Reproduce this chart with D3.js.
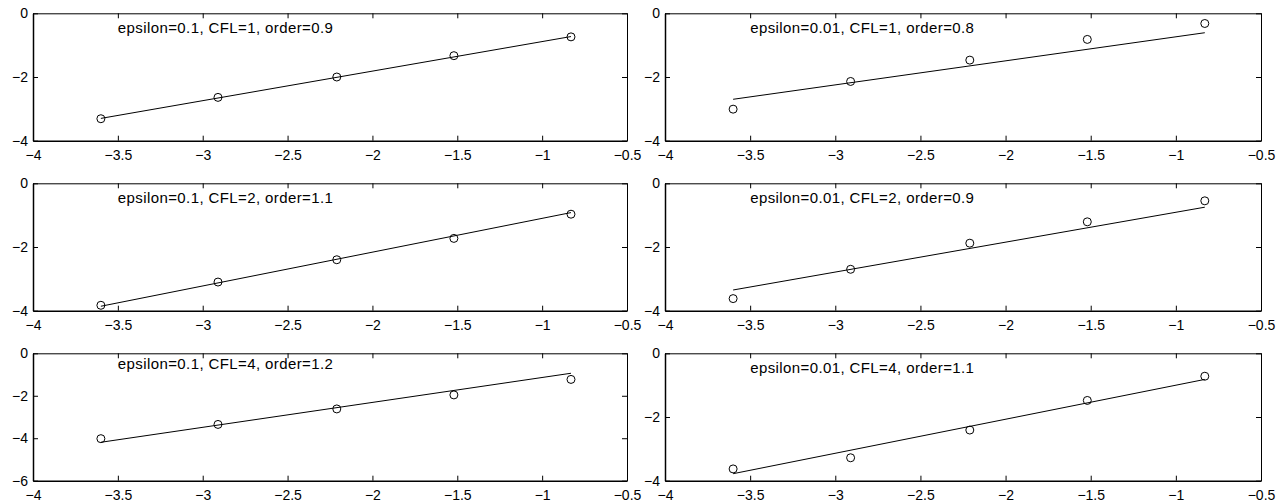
<!DOCTYPE html>
<html>
<head>
<meta charset="utf-8">
<script src="https://cdn.jsdelivr.net/npm/d3@7/dist/d3.min.js"></script>
<style>
  html, body { margin: 0; padding: 0; background: #fff; }
  svg { display: block; }
  text { font-family: "Liberation Sans", Arial, Helvetica, sans-serif; fill: #000; }
</style>
</head>
<body>
<svg id="chart" width="1281" height="504"></svg>
<script>
// ---------------- data ----------------
const logH = [-3.6, -2.91, -2.21, -1.52, -0.83];           // x values of the five runs
const xTicks = [-4, -3.5, -3, -2.5, -2, -1.5, -1, -0.5];
const xDomain = [-4, -0.5];

const panelTitles = [
  "epsilon=0.1, CFL=1, order=0.9",
  "epsilon=0.01, CFL=1, order=0.8",
  "epsilon=0.1, CFL=2, order=1.1",
  "epsilon=0.01, CFL=2, order=0.9",
  "epsilon=0.1, CFL=4, order=1.2",
  "epsilon=0.01, CFL=4, order=1.1"
];

// log error for each panel (5 points)
const errEps01Cfl1  = [-3.31, -2.64, -2.00, -1.33, -0.74];
const errEps001Cfl1 = [-3.01, -2.14, -1.47, -0.82, -0.32];
const errEps01Cfl2  = [-3.83, -3.10, -2.40, -1.73, -0.97];
const errEps001Cfl2 = [-3.62, -2.70, -1.88, -1.21, -0.55];
const errEps01Cfl4  = [-4.02, -3.35, -2.62, -1.96, -1.23];
const errEps001Cfl4 = [-3.63, -3.28, -2.41, -1.48, -0.72];

// fitted line values at first and last x
const fitEps01Cfl1  = [-3.30, -0.73];
const fitEps001Cfl1 = [-2.70, -0.61];
const fitEps01Cfl2  = [-3.86, -0.92];
const fitEps001Cfl2 = [-3.35, -0.75];
const fitEps01Cfl4  = [-4.19, -0.94];
const fitEps001Cfl4 = [-3.78, -0.82];

// y-axis limits and ticks
const yDomains = [[-4, 0], [-4, 0], [-4, 0], [-4, 0], [-6, 0], [-4, 0]];
const yTicksList = [[-4, -2, 0], [-4, -2, 0], [-4, -2, 0], [-4, -2, 0], [-6, -4, -2, 0], [-4, -2, 0]];
// annotation anchor (data coordinates)
const labelX = [-3.5, -3.5, -3.5, -3.5, -3.5, -3.5];
const labelY = [-0.63, -0.63, -0.63, -0.63, -0.75, -0.63];

const errs = [errEps01Cfl1, errEps001Cfl1, errEps01Cfl2, errEps001Cfl2, errEps01Cfl4, errEps001Cfl4];
const fits = [fitEps01Cfl1, fitEps001Cfl1, fitEps01Cfl2, fitEps001Cfl2, fitEps01Cfl4, fitEps001Cfl4];

// ---------------- layout ----------------
const colLeft = [33, 665];
const colWidth = [594, 596];
const rowTop = [13.3, 183.3, 353.3];
const panelH = 127.4;
const tick = 5;

const svg = d3.select("#chart");
const fmt = d3.format("~g");

for (let i = 0; i < 6; i++) {
  const col = i % 2, row = Math.floor(i / 2);
  const w = colWidth[col], h = panelH;
  const g = svg.append("g").attr("transform", `translate(${colLeft[col]},${rowTop[row]})`);

  const x = d3.scaleLinear().domain(xDomain).range([0, w]);
  const y = d3.scaleLinear().domain(yDomains[i]).range([h, 0]);

  // axes (inward ticks on all sides, MATLAB box style)
  const axB = g.append("g").attr("transform", `translate(0,${h})`)
    .call(d3.axisBottom(x).tickValues(xTicks).tickFormat(fmt).tickSizeInner(-tick).tickSizeOuter(0).tickPadding(9));
  const axT = g.append("g")
    .call(d3.axisTop(x).tickValues(xTicks).tickFormat("").tickSizeInner(-tick).tickSizeOuter(0));
  const axL = g.append("g")
    .call(d3.axisLeft(y).tickValues(yTicksList[i]).tickFormat(fmt).tickSizeInner(-tick).tickSizeOuter(0).tickPadding(5));
  const axR = g.append("g").attr("transform", `translate(${w},0)`)
    .call(d3.axisRight(y).tickValues(yTicksList[i]).tickFormat("").tickSizeInner(-tick).tickSizeOuter(0));

  [axB, axT, axL, axR].forEach(a => {
    a.selectAll("path.domain").attr("stroke", "#000").attr("stroke-width", 1);
    a.selectAll(".tick line").attr("stroke", "#000").attr("stroke-width", 1);
    a.selectAll("text").attr("font-size", "14px").attr("font-family", "Liberation Sans, Arial, sans-serif").attr("fill", "#000");
  });
  axB.select("path.domain").attr("stroke-width", 1.5);
  axL.select("path.domain").attr("stroke-width", 1.5);

  // fitted line
  const fitPts = [[logH[0], fits[i][0]], [logH[logH.length - 1], fits[i][1]]];
  g.append("path")
    .attr("d", d3.line().x(d => x(d[0])).y(d => y(d[1]))(fitPts))
    .attr("fill", "none").attr("stroke", "#000").attr("stroke-width", 1);

  // data markers
  g.selectAll("circle.pt").data(logH.map((v, k) => [v, errs[i][k]]))
    .join("circle").attr("class", "pt")
    .attr("cx", d => x(d[0])).attr("cy", d => y(d[1])).attr("r", 4)
    .attr("fill", "none").attr("stroke", "#000").attr("stroke-width", 1);

  // annotation
  g.append("text")
    .attr("x", x(labelX[i])).attr("y", y(labelY[i]))
    .attr("font-size", "15px").attr("letter-spacing", "0.4px")
    .text(panelTitles[i]);
}
</script>
</body>
</html>
